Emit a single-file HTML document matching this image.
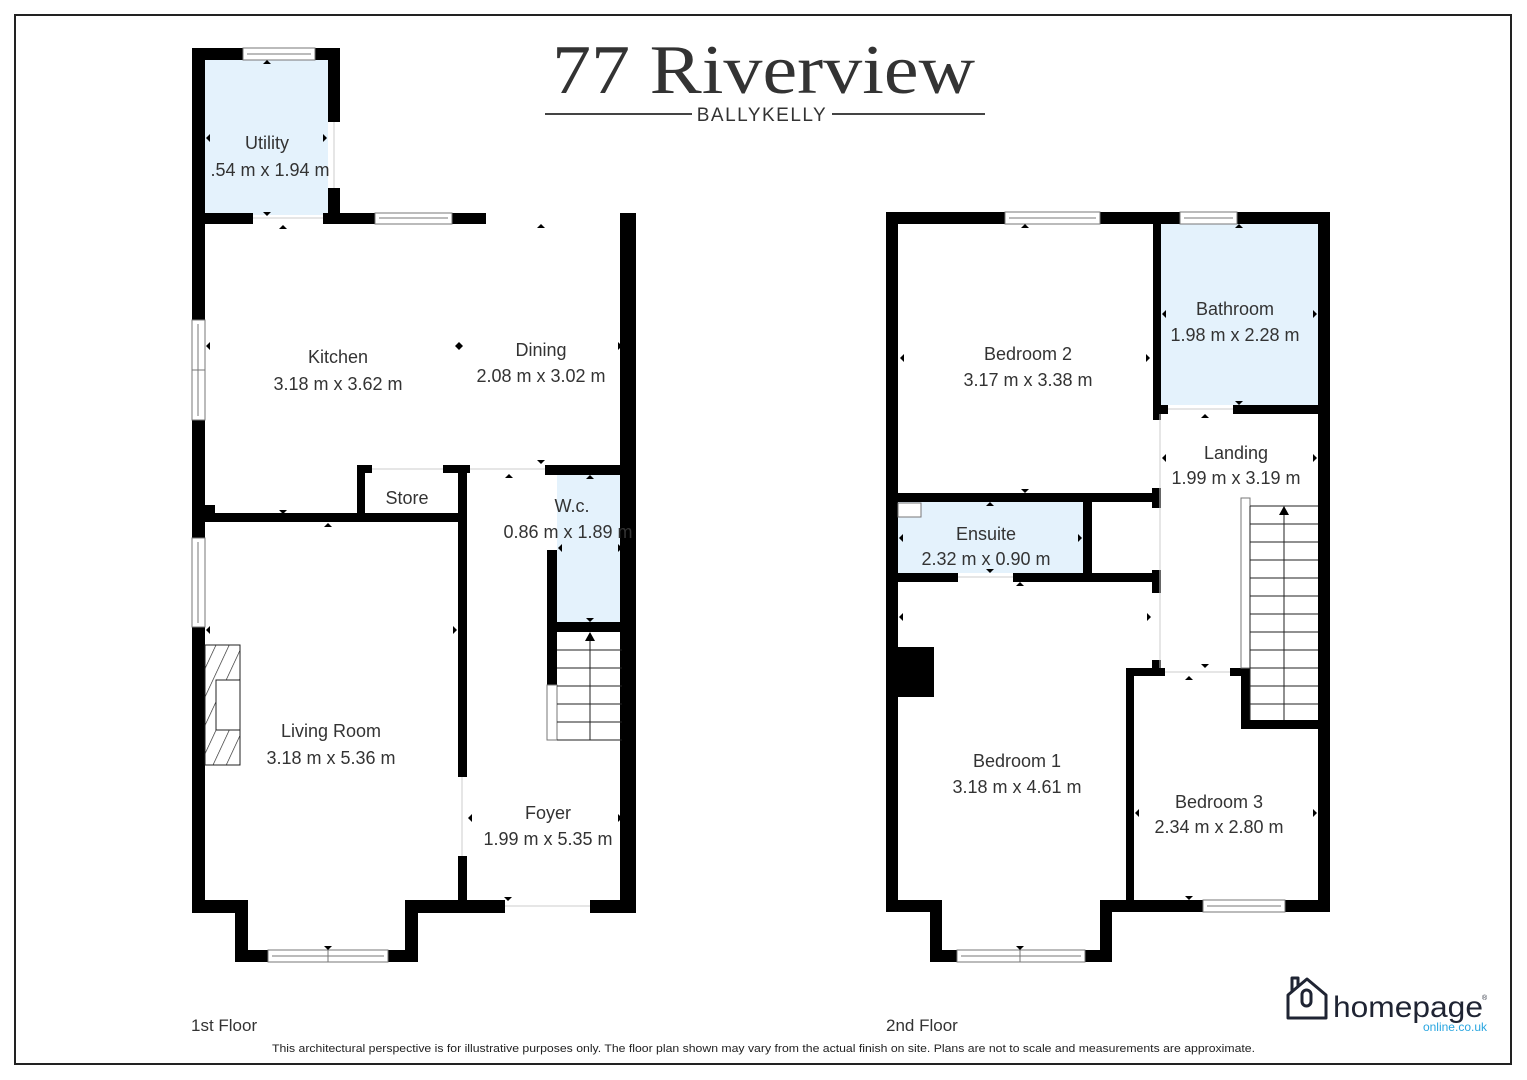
<!DOCTYPE html>
<html><head><meta charset="utf-8"><style>
html,body{margin:0;padding:0;background:#fff;}
svg{display:block;}
text{font-family:"Liberation Sans",sans-serif;fill:#333;}
</style></head><body>
<svg width="1527" height="1080" viewBox="0 0 1527 1080" xmlns="http://www.w3.org/2000/svg">
<defs>
<pattern id="hatch" width="12" height="12" patternUnits="userSpaceOnUse" patternTransform="rotate(25)">
<line x1="0" y1="0" x2="0" y2="12" stroke="#222" stroke-width="1.3"/>
</pattern>
</defs>
<rect x="15" y="15" width="1496" height="1049" fill="none" stroke="#222" stroke-width="2"/>

<!-- Title -->
<text x="552" y="93" textLength="423" lengthAdjust="spacingAndGlyphs" style="font-family:'Liberation Serif',serif;font-size:70px;fill:#333">77 Riverview</text>
<line x1="545" y1="114" x2="692" y2="114" stroke="#444" stroke-width="2"/>
<line x1="832" y1="114" x2="985" y2="114" stroke="#444" stroke-width="2"/>
<text x="762" y="121" text-anchor="middle" style="font-size:19px;letter-spacing:1.5px">BALLYKELLY</text>

<!-- ============ FIRST FLOOR ============ -->
<g fill="#e4f2fc">
<rect x="205" y="60" width="123" height="155"/>
<rect x="557" y="475" width="65" height="147"/>
</g>
<g fill="#000">
<rect x="192" y="48" width="13" height="865"/>
<rect x="192" y="48" width="51" height="12"/>
<rect x="315" y="48" width="25" height="12"/>
<rect x="328" y="48" width="12" height="74"/>
<rect x="328" y="188" width="12" height="36"/>
<rect x="192" y="213" width="61" height="11"/>
<rect x="323" y="213" width="52" height="11"/>
<rect x="452" y="213" width="34" height="11"/>
<rect x="620" y="213" width="16" height="700"/>
<rect x="192" y="505" width="23" height="17"/>
<rect x="192" y="513" width="275" height="9"/>
<rect x="357" y="465" width="8" height="50"/>
<rect x="357" y="465" width="15" height="8"/>
<rect x="443" y="465" width="27" height="8"/>
<rect x="458" y="465" width="9" height="312"/>
<rect x="458" y="856" width="9" height="57"/>
<rect x="545" y="465" width="91" height="10"/>
<rect x="547" y="550" width="10" height="135"/>
<rect x="547" y="622" width="89" height="10"/>
<rect x="192" y="900" width="56" height="13"/>
<rect x="235" y="900" width="13" height="62"/>
<rect x="235" y="950" width="33" height="12"/>
<rect x="388" y="950" width="30" height="12"/>
<rect x="405" y="900" width="13" height="62"/>
<rect x="405" y="900" width="100" height="13"/>
<rect x="590" y="900" width="46" height="13"/>
</g>
<g fill="#fff" stroke="#777" stroke-width="1">
<rect x="243" y="48" width="72" height="12"/>
<line x1="247" y1="54" x2="311" y2="54"/>
<rect x="375" y="213" width="77" height="11"/>
<line x1="379" y1="218" x2="448" y2="218"/>
<rect x="192" y="320" width="13" height="100"/>
<line x1="198" y1="324" x2="198" y2="416"/><line x1="192" y1="370" x2="205" y2="370"/>
<rect x="192" y="538" width="13" height="89"/>
<line x1="198" y1="542" x2="198" y2="623"/>
<rect x="268" y="950" width="120" height="12"/>
<line x1="272" y1="956" x2="384" y2="956"/><line x1="328" y1="950" x2="328" y2="962"/>
<rect x="547" y="685" width="10" height="55"/>
</g>
<g stroke="#ccc" stroke-width="1">
<line x1="372" y1="469" x2="443" y2="469"/><line x1="470" y1="469" x2="545" y2="469"/>
<line x1="253" y1="218" x2="323" y2="218"/><line x1="505" y1="906" x2="590" y2="906"/>
<line x1="462" y1="777" x2="462" y2="856"/><line x1="334" y1="122" x2="334" y2="188"/>
</g>
<rect x="205" y="645" width="35" height="120" fill="url(#hatch)" stroke="#222" stroke-width="1"/>
<rect x="216" y="680" width="24" height="50" fill="#fff" stroke="#222" stroke-width="1"/>
<g stroke="#222" stroke-width="1" fill="none">
<line x1="557" y1="650" x2="622" y2="650"/><line x1="557" y1="668" x2="622" y2="668"/>
<line x1="557" y1="686" x2="622" y2="686"/><line x1="557" y1="704" x2="622" y2="704"/>
<line x1="557" y1="722" x2="622" y2="722"/><line x1="557" y1="740" x2="622" y2="740"/>
<line x1="590" y1="636" x2="590" y2="740"/>
</g>
<polygon points="590,632 585,641 595,641" fill="#000"/>

<g font-size="18" text-anchor="middle">
<text x="267" y="149">Utility</text>
<text x="270" y="176">.54 m x 1.94 m</text>
<text x="338" y="363">Kitchen</text>
<text x="338" y="390">3.18 m x 3.62 m</text>
<text x="541" y="356">Dining</text>
<text x="541" y="382">2.08 m x 3.02 m</text>
<text x="407" y="504">Store</text>
<text x="572" y="512">W.c.</text>
<text x="568" y="538">0.86 m x 1.89 m</text>
<text x="331" y="737">Living Room</text>
<text x="331" y="764">3.18 m x 5.36 m</text>
<text x="548" y="819">Foyer</text>
<text x="548" y="845">1.99 m x 5.35 m</text>
</g>

<!-- ============ SECOND FLOOR ============ -->
<g fill="#e4f2fc">
<rect x="1161" y="224" width="157" height="181"/>
<rect x="898" y="502" width="185" height="71"/>
</g>
<g fill="#000">
<rect x="886" y="212" width="12" height="700"/>
<rect x="886" y="212" width="119" height="12"/>
<rect x="1100" y="212" width="80" height="12"/>
<rect x="1237" y="212" width="93" height="12"/>
<rect x="1318" y="212" width="12" height="700"/>
<rect x="1153" y="212" width="8" height="208"/>
<rect x="1153" y="405" width="15" height="9"/>
<rect x="1233" y="405" width="85" height="9"/>
<rect x="886" y="493" width="274" height="9"/>
<rect x="1152" y="488" width="9" height="20"/>
<rect x="1083" y="502" width="9" height="76"/>
<rect x="886" y="573" width="72" height="9"/>
<rect x="1013" y="573" width="147" height="9"/>
<rect x="1152" y="570" width="9" height="23"/>
<rect x="1152" y="660" width="9" height="16"/>
<rect x="898" y="647" width="36" height="50"/>
<rect x="1126" y="668" width="39" height="8"/>
<rect x="1126" y="668" width="8" height="244"/>
<rect x="1230" y="668" width="20" height="8"/>
<rect x="1241" y="668" width="9" height="60"/>
<rect x="1241" y="720" width="89" height="9"/>
<rect x="886" y="900" width="56" height="12"/>
<rect x="930" y="900" width="12" height="62"/>
<rect x="930" y="950" width="27" height="12"/>
<rect x="1085" y="950" width="27" height="12"/>
<rect x="1100" y="900" width="12" height="62"/>
<rect x="1100" y="900" width="103" height="12"/>
<rect x="1285" y="900" width="45" height="12"/>
</g>
<g fill="#fff" stroke="#777" stroke-width="1">
<rect x="1005" y="212" width="95" height="12"/><line x1="1009" y1="218" x2="1096" y2="218"/>
<rect x="1180" y="212" width="57" height="12"/><line x1="1184" y1="218" x2="1233" y2="218"/>
<rect x="957" y="950" width="128" height="12"/><line x1="961" y1="956" x2="1081" y2="956"/><line x1="1020" y1="950" x2="1020" y2="962"/>
<rect x="1203" y="900" width="82" height="12"/><line x1="1207" y1="906" x2="1281" y2="906"/>
<rect x="1241" y="498" width="9" height="170"/>
<rect x="898" y="503" width="23" height="14"/>
</g>
<g stroke="#ccc" stroke-width="1">
<line x1="1168" y1="409" x2="1233" y2="409"/><line x1="958" y1="577" x2="1013" y2="577"/>
<line x1="1165" y1="672" x2="1230" y2="672"/>
<line x1="1160" y1="414" x2="1160" y2="668"/>
</g>
<g stroke="#222" stroke-width="1">
<line x1="1250" y1="506" x2="1318" y2="506"/>
<line x1="1250" y1="524" x2="1318" y2="524"/><line x1="1250" y1="542" x2="1318" y2="542"/>
<line x1="1250" y1="560" x2="1318" y2="560"/><line x1="1250" y1="578" x2="1318" y2="578"/>
<line x1="1250" y1="596" x2="1318" y2="596"/><line x1="1250" y1="614" x2="1318" y2="614"/>
<line x1="1250" y1="632" x2="1318" y2="632"/><line x1="1250" y1="650" x2="1318" y2="650"/>
<line x1="1250" y1="668" x2="1318" y2="668"/><line x1="1250" y1="686" x2="1318" y2="686"/>
<line x1="1250" y1="704" x2="1318" y2="704"/>
<line x1="1284" y1="512" x2="1284" y2="720"/>
<line x1="1250" y1="506" x2="1250" y2="720"/>
</g>
<polygon points="1284,506 1279,515 1289,515" fill="#000"/>

<g font-size="18" text-anchor="middle">
<text x="1028" y="360">Bedroom 2</text>
<text x="1028" y="386">3.17 m x 3.38 m</text>
<text x="1235" y="315">Bathroom</text>
<text x="1235" y="341">1.98 m x 2.28 m</text>
<text x="1236" y="459">Landing</text>
<text x="1236" y="484">1.99 m x 3.19 m</text>
<text x="986" y="540">Ensuite</text>
<text x="986" y="565">2.32 m x 0.90 m</text>
<text x="1017" y="767">Bedroom 1</text>
<text x="1017" y="793">3.18 m x 4.61 m</text>
<text x="1219" y="808">Bedroom 3</text>
<text x="1219" y="833">2.34 m x 2.80 m</text>
</g>

<g fill="#000">
<polygon points="267,60 263,64 271,64"/><polygon points="267,216 263,212 271,212"/>
<polygon points="283,225 279,229 287,229"/><polygon points="541,224 537,228 545,228"/>
<polygon points="206,138 210,134 210,142"/><polygon points="327,138 323,134 323,142"/>
<polygon points="206,346 210,342 210,350"/><polygon points="463,346 459,342 459,350"/>
<polygon points="455,346 459,342 459,350"/><polygon points="622,346 618,342 618,350"/>
<polygon points="283,514 279,510 287,510"/><polygon points="328,523 324,527 332,527"/>
<polygon points="206,630 210,626 210,634"/><polygon points="457,630 453,626 453,634"/>
<polygon points="328,950 324,946 332,946"/><polygon points="468,818 472,814 472,822"/>
<polygon points="622,818 618,814 618,822"/><polygon points="508,901 504,897 512,897"/>
<polygon points="509,474 505,478 513,478"/><polygon points="541,464 537,460 545,460"/>
<polygon points="590,475 586,479 594,479"/><polygon points="590,622 586,618 594,618"/>
<polygon points="558,548 562,544 562,552"/><polygon points="622,548 618,544 618,552"/>
<polygon points="1025,224 1021,228 1029,228"/><polygon points="1025,493 1021,489 1029,489"/>
<polygon points="900,358 904,354 904,362"/><polygon points="1150,358 1146,354 1146,362"/>
<polygon points="1239,224 1235,228 1243,228"/><polygon points="1239,405 1235,401 1243,401"/>
<polygon points="1162,314 1166,310 1166,318"/><polygon points="1317,314 1313,310 1313,318"/>
<polygon points="1205,414 1201,418 1209,418"/><polygon points="1162,458 1166,454 1166,462"/>
<polygon points="1317,458 1313,454 1313,462"/><polygon points="1205,668 1201,664 1209,664"/>
<polygon points="1189,676 1185,680 1193,680"/><polygon points="990,502 986,506 994,506"/>
<polygon points="899,538 903,534 903,542"/><polygon points="1082,538 1078,534 1078,542"/>
<polygon points="990,573 986,569 994,569"/><polygon points="1020,582 1016,586 1024,586"/>
<polygon points="899,617 903,613 903,621"/><polygon points="1151,617 1147,613 1147,621"/>
<polygon points="1135,813 1139,809 1139,817"/><polygon points="1317,813 1313,809 1313,817"/>
<polygon points="1189,900 1185,896 1193,896"/><polygon points="1020,950 1016,946 1024,946"/>
</g>

<text x="191" y="1031" font-size="17">1st Floor</text>
<text x="886" y="1031" font-size="17">2nd Floor</text>
<text x="272" y="1052" textLength="983" lengthAdjust="spacingAndGlyphs" font-size="11" style="fill:#222">This architectural perspective is for illustrative purposes only. The floor plan shown may vary from the actual finish on site. Plans are not to scale and measurements are approximate.</text>

<g fill="none" stroke="#1f2433" stroke-width="3" stroke-linejoin="round">
<path d="M1288,1018 L1288,995 L1307,979 L1326,995 L1326,1018 Z"/>
<path d="M1292,992 L1292,978 L1298,978 L1298,987"/>
<rect x="1302" y="990" width="9" height="16" rx="4.5"/>
</g>
<text x="1333" y="1017" font-size="30" textLength="150" lengthAdjust="spacingAndGlyphs" style="fill:#1f2433">homepage</text>
<text x="1482" y="1000" font-size="7" style="fill:#1f2433">®</text>
<text x="1487" y="1031" font-size="12" text-anchor="end" style="fill:#2aa6e0">online.co.uk</text>
</svg>
</body></html>
